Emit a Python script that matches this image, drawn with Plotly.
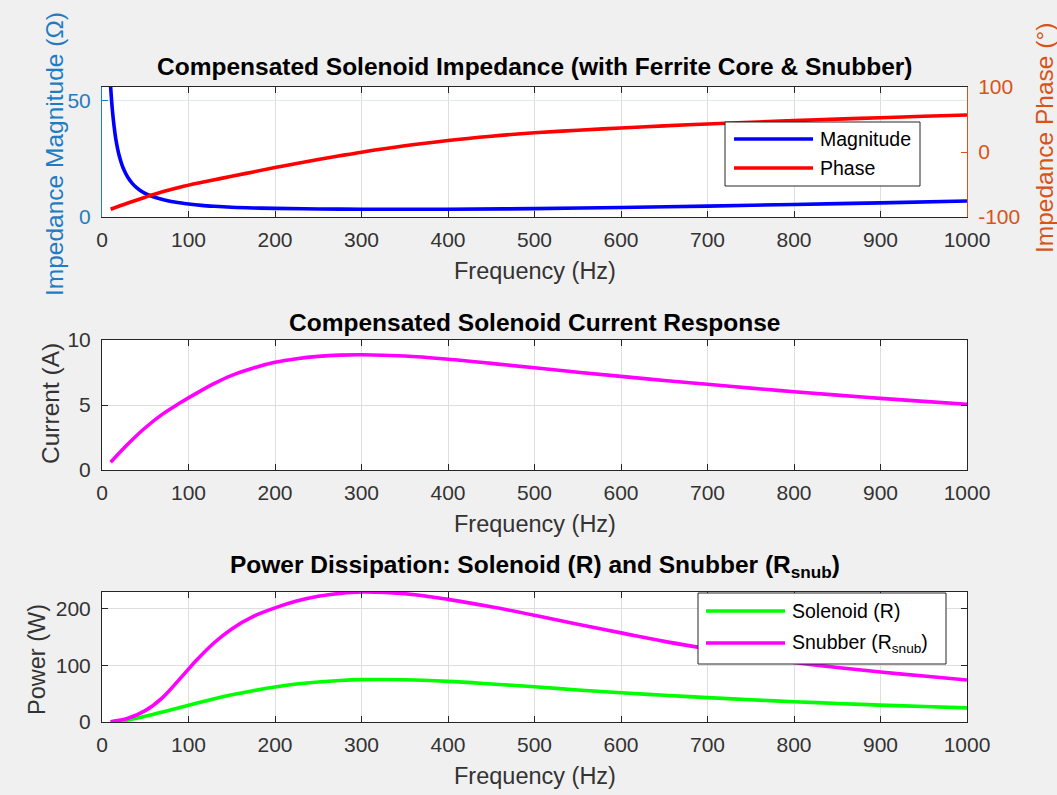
import plotly.graph_objects as go

# ---------------- data ----------------
# impedance magnitude is sampled more densely where it drops steeply
freq_mag = [10, 12, 14, 16, 18, 20, 23, 26, 30, 35, 40, 46, 53, 60, 70, 80, 90,
            100, 115, 130, 150, 175, 200, 250, 300, 350, 400, 500, 600, 700,
            800, 900, 1000]
impedance_mag = [56.0, 46.0, 39.0, 33.5, 29.5, 26.3, 22.6, 19.8, 17.0, 14.5,
                 12.7, 11.0, 9.6, 8.6, 7.5, 6.7, 6.1, 5.6, 5.0, 4.6, 4.2, 3.9,
                 3.7, 3.47, 3.37, 3.33, 3.35, 3.6, 4.1, 4.7, 5.4, 6.1, 6.9]

freq = [10, 30, 50, 70, 90, 110, 130, 150, 175, 200, 225, 250, 275, 300, 350,
        400, 450, 500, 550, 600, 650, 700, 750, 800, 850, 900, 950, 1000]

impedance_phase = [-88, -78.5, -69.5, -61.2, -54.3, -48.2, -42.7, -37.4,
                   -30.6, -24, -17.6, -11.5, -5.8, -0.3, 9.5, 17.8, 24.3,
                   29.5, 33.5, 37, 40.2, 43.1, 45.8, 48.3, 50.6, 52.8, 54.9,
                   56.9]

current = [0.6, 2.0, 3.25, 4.3, 5.15, 5.93, 6.66, 7.28, 7.85, 8.28, 8.56, 8.74,
           8.84, 8.87, 8.77, 8.52, 8.2, 7.86, 7.52, 7.2, 6.89, 6.59, 6.3, 6.02,
           5.76, 5.51, 5.28, 5.06]

power_solenoid = [0.35, 3.6, 10, 17.5, 25.5, 33.5, 41, 47.8, 55.2, 61.6, 66.8,
                  70.6, 73.2, 74.6, 74.4, 71.5, 67, 62, 56.5, 51.5, 47, 43,
                  39.2, 35.8, 32.7, 29.8, 27.2, 24.8]

power_snubber = [0.3, 6.5, 20, 43, 76, 110, 140, 164, 186, 201, 213, 221.5,
                 226.5, 229, 226, 216, 203, 188, 172, 157, 142, 129, 116, 105,
                 96, 88, 81, 74]

x_ticks = [0, 100, 200, 300, 400, 500, 600, 700, 800, 900, 1000]
mag_ticks = [0, 50]
phase_ticks = [-100, 0, 100]
phase_ticktext = ["-100", "0", "100"]
current_ticks = [0, 5, 10]
power_ticks = [0, 100, 200]

# ---------------- styling ----------------
W, H = 1057, 795
FONT = "Liberation Sans, Arial, Helvetica, sans-serif"
AX = "#262626"
TXT = "#333333"
BLUE_AX = "#1f7cc2"
ORANGE_AX = "#D95319"
GRID = "#DEDEDE"
GRID_BLUE = "#D9EAF5"
BG = "#F0F0F0"
LW = 3.6


def px(x):
    return x / W


def py(y):
    return 1 - y / H


X_DOM = [px(102), px(967)]
TOP_DOM = [py(217), py(87)]
MID_DOM = [py(470), py(340)]
BOT_DOM = [py(722), py(592)]

tickfont = dict(family=FONT, size=21, color=TXT)


def xaxis(anchor):
    return dict(domain=X_DOM, anchor=anchor, range=[0, 1000], tickvals=x_ticks,
                ticks="inside", ticklen=6, tickcolor=AX, showline=True,
                linecolor=AX, linewidth=1, mirror="ticks", showgrid=True,
                gridcolor=GRID, gridwidth=1, zeroline=False, tickfont=tickfont,
                ticklabelstandoff=4, fixedrange=True, automargin=False)


def yaxis(anchor, dom, rng, tv):
    return dict(domain=dom, anchor=anchor, range=rng, tickvals=tv,
                ticks="inside", ticklen=6, tickcolor=AX, showline=True,
                linecolor=AX, linewidth=1, mirror="ticks", showgrid=True,
                gridcolor=GRID, gridwidth=1, zeroline=False, tickfont=tickfont,
                ticklabelstandoff=6, fixedrange=True, automargin=False)


fig = go.Figure()

# Top: impedance magnitude & phase
fig.add_trace(go.Scatter(x=freq_mag, y=impedance_mag, mode="lines", name="Magnitude",
                         line=dict(color="#0000FF", width=LW, shape="spline"),
                         xaxis="x", yaxis="y", showlegend=False))
fig.add_trace(go.Scatter(x=freq, y=impedance_phase, mode="lines", name="Phase",
                         line=dict(color="#FF0000", width=LW, shape="spline"),
                         xaxis="x", yaxis="y2", showlegend=False))
# Middle: current
fig.add_trace(go.Scatter(x=freq, y=current, mode="lines", name="Current",
                         line=dict(color="#FF00FF", width=LW, shape="spline"),
                         xaxis="x3", yaxis="y3", showlegend=False))
# Bottom: power
fig.add_trace(go.Scatter(x=freq, y=power_solenoid, mode="lines", name="Solenoid (R)",
                         line=dict(color="#00FF00", width=LW, shape="spline"),
                         xaxis="x4", yaxis="y4", showlegend=False))
fig.add_trace(go.Scatter(x=freq, y=power_snubber, mode="lines", name="Snubber (R_snub)",
                         line=dict(color="#FF00FF", width=LW, shape="spline"),
                         xaxis="x4", yaxis="y4", showlegend=False))

y_top = yaxis("x", TOP_DOM, [0, 56], mag_ticks)
y_top.update(mirror=False, tickcolor=BLUE_AX, linecolor=BLUE_AX, gridcolor=GRID_BLUE,
             tickfont=dict(family=FONT, size=21, color=BLUE_AX))
y_top2 = dict(overlaying="y", side="right", anchor="x", range=[-100, 100],
              tickvals=phase_ticks, ticktext=phase_ticktext, ticks="inside",
              ticklen=6, tickcolor=ORANGE_AX, showline=True, linecolor=ORANGE_AX,
              linewidth=1, showgrid=False, zeroline=False, ticklabelstandoff=6,
              tickfont=dict(family=FONT, size=21, color=ORANGE_AX), fixedrange=True,
              automargin=False)

fig.update_layout(
    width=W, height=H,
    margin=dict(l=0, r=0, t=0, b=0, pad=0, autoexpand=False),
    paper_bgcolor=BG, plot_bgcolor="#FFFFFF",
    showlegend=False,
    xaxis=xaxis("y"),
    yaxis=y_top,
    yaxis2=y_top2,
    xaxis3=xaxis("y3"),
    yaxis3=yaxis("x3", MID_DOM, [0, 10], current_ticks),
    xaxis4=xaxis("y4"),
    yaxis4=yaxis("x4", BOT_DOM, [0, 229], power_ticks),
)

cx = px((102 + 967) / 2)
ann = []


def add_text(text, x, y, size, color="#000000", angle=0, xanchor="center", bold=False):
    ann.append(dict(text=("<b>%s</b>" % text) if bold else text, x=x, y=y,
                    xref="paper", yref="paper", showarrow=False, textangle=angle,
                    xanchor=xanchor, yanchor="middle",
                    font=dict(family=FONT, size=size, color=color)))


# Titles
add_text("Compensated Solenoid Impedance (with Ferrite Core &amp; Snubber)", cx, py(67), 24.5, bold=True)
add_text("Compensated Solenoid Current Response", cx, py(322), 24.5, bold=True)
add_text("Power Dissipation: Solenoid (R) and Snubber (R<sub>snub</sub>)", cx, py(566), 24.5, bold=True)

# Axis titles
for ycen in (271, 524, 776):
    add_text("Frequency (Hz)", cx, py(ycen), 23.5, color=TXT)
add_text("Impedance Magnitude (Ω)", px(55), py(154), 24.5, color=BLUE_AX, angle=-90)
add_text("Impedance Phase (°)", px(1045), py(138), 24.5, color=ORANGE_AX, angle=-90)
add_text("Current (A)", px(50), py(404), 24.5, color=TXT, angle=-90)
add_text("Power (W)", px(37), py(660), 23.5, color=TXT, angle=-90)

# Legends (drawn as boxes, line samples and text)
shapes = []


def legend_box(x0, y0, x1, y1):
    shapes.append(dict(type="rect", xref="paper", yref="paper", x0=px(x0), x1=px(x1),
                       y0=py(y1), y1=py(y0), line=dict(color=AX, width=1),
                       fillcolor="#FFFFFF", layer="above"))


def legend_item(xl0, xl1, yy, color, label):
    shapes.append(dict(type="line", xref="paper", yref="paper", x0=px(xl0), x1=px(xl1),
                       y0=py(yy), y1=py(yy), line=dict(color=color, width=LW),
                       layer="above"))
    add_text(label, px(xl1 + 5), py(yy), 19.5, color="#000000", xanchor="left")


legend_box(725, 122, 920, 186)
legend_item(734, 813, 139, "#0000FF", "Magnitude")
legend_item(734, 813, 168, "#FF0000", "Phase")

legend_box(698, 593, 946, 664)
legend_item(706, 785, 611, "#00FF00", "Solenoid (R)")
legend_item(706, 785, 643, "#FF00FF", "Snubber (R<sub>snub</sub>)")

fig.update_layout(annotations=ann, shapes=shapes)

fig.write_html("out.html", config={"displayModeBar": False})
